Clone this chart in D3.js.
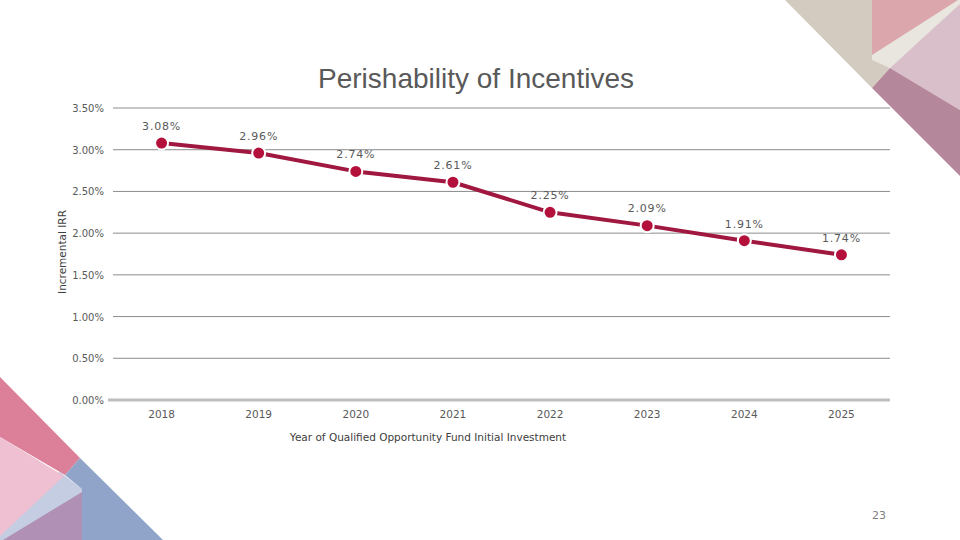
<!DOCTYPE html>
<html><head><meta charset="utf-8">
<script src="https://cdn.jsdelivr.net/npm/d3@7"></script>
<style>body{margin:0;background:#fff}svg{display:block}</style>
</head><body>
<svg id="c" width="960" height="540"></svg>
<script>
const years = ["2018","2019","2020","2021","2022","2023","2024","2025"];
const irr = [3.08, 2.96, 2.74, 2.61, 2.25, 2.09, 1.91, 1.74];
const yTicks = [0, 0.5, 1.0, 1.5, 2.0, 2.5, 3.0, 3.5];
const title = "Perishability of Incentives";
const xTitle = "Year of Qualified Opportunity Fund  Initial Investment";
const yTitle = "Incremental IRR";
const pageNum = "23";

const svg = d3.select("#c");

// decorative shapes
const deco = [
  {c:"#d3cbbf", p:[[785,0],[872,0],[872,55],[890,68],[872,88]]},
  {c:"#e9e6df", p:[[872,0],[960,0],[960,6],[890,68],[872,60]]},
  {c:"#dca7ac", p:[[872,0],[958,0],[872,55]]},
  {c:"#d9bfca", p:[[890,68],[960,4],[960,110]]},
  {c:"#b5879a", p:[[872,88],[890,68],[960,110],[960,176]]},
  {c:"#c5cde2", p:[[60,472],[82,489],[82,540],[0,540],[0,500]]},
  {c:"#dc809a", p:[[0,377],[80,458],[65,475],[0,437]]},
  {c:"#efc0d2", p:[[0,437],[64,476],[0,536]]},
  {c:"#b190b5", p:[[82,492],[82,540],[3,540]]},
  {c:"#8fa4c8", p:[[80,458],[163,540],[82,540],[82,489],[65,475]]}
];
svg.selectAll("polygon.deco").data(deco).enter().append("polygon")
  .attr("class", "deco")
  .attr("points", d => d.p.map(q => q.join(",")).join(" "))
  .attr("fill", d => d.c);

const pL = 113, pR = 890, pT = 108, pB = 400;
const x = d3.scaleBand().domain(years).range([pL, pR]);
const y = d3.scaleLinear().domain([0, 3.5]).range([pB, pT]);

const grey = "#595959";

// gridlines
svg.append("g").selectAll("line").data(yTicks.filter(t => t > 0)).enter().append("line")
  .attr("x1", pL).attr("x2", pR)
  .attr("y1", d => y(d)).attr("y2", d => y(d))
  .attr("stroke", "#8c8c8c").attr("stroke-width", 1);
svg.append("line").attr("x1", 108).attr("x2", pR)
  .attr("y1", y(0)).attr("y2", y(0))
  .attr("stroke", "#bfbfbf").attr("stroke-width", 3);

// y axis labels
const yAxis = d3.axisLeft(y).tickValues(yTicks).tickSize(0).tickPadding(0)
  .tickFormat(d => d3.format(".2f")(d) + "%");
const gy = svg.append("g").attr("transform", `translate(104,0)`).call(yAxis);
gy.select(".domain").remove();
gy.selectAll("text").attr("fill", grey).style("font-family", "'DejaVu Sans', sans-serif")
  .style("font-size", "10px").attr("dy", "0.35em");

// x axis labels
const xAxis = d3.axisBottom(x).tickSize(0).tickPadding(0);
const gx = svg.append("g").attr("transform", `translate(0,410)`).call(xAxis);
gx.select(".domain").remove();
gx.selectAll("text").attr("fill", grey).style("font-family", "'DejaVu Sans', sans-serif")
  .style("font-size", "10.5px").attr("dy", "0.8em");

// line
const cx = d => x(d) + x.bandwidth() / 2;
const line = d3.line().x((d, i) => cx(years[i])).y(d => y(d));
svg.append("path").datum(irr).attr("d", line)
  .attr("fill", "none").attr("stroke", "#a0173f").attr("stroke-width", 4)
  .attr("stroke-linejoin", "round");

svg.append("g").selectAll("circle").data(irr).enter().append("circle")
  .attr("cx", (d, i) => cx(years[i])).attr("cy", d => y(d)).attr("r", 6.5)
  .attr("fill", "#b4103c").attr("stroke", "#fff").attr("stroke-width", 2);

svg.append("g").selectAll("text").data(irr).enter().append("text")
  .attr("x", (d, i) => cx(years[i])).attr("y", d => y(d) - 17)
  .attr("dy", "0.35em").attr("text-anchor", "middle")
  .attr("fill", grey).style("font-family", "'DejaVu Sans', sans-serif")
  .style("font-size", "11px").style("letter-spacing", "0.8px")
  .text(d => d3.format(".2f")(d) + "%");

// titles
svg.append("text").attr("x", 476).attr("y", 88).attr("text-anchor", "middle")
  .attr("fill", grey).style("font-family", "'Liberation Sans', Arial, sans-serif")
  .style("font-size", "28px").text(title);
svg.append("text").attr("x", 428).attr("y", 441).attr("text-anchor", "middle")
  .attr("fill", "#404040").style("font-family", "'DejaVu Sans', sans-serif")
  .style("font-size", "10.5px").text(xTitle);
svg.append("text").attr("transform", "translate(66,252) rotate(-90)").attr("text-anchor", "middle")
  .attr("fill", "#404040").style("font-family", "'DejaVu Sans', sans-serif")
  .style("font-size", "10.5px").text(yTitle);
svg.append("text").attr("x", 879).attr("y", 519).attr("text-anchor", "middle")
  .attr("fill", "#7f7f7f").style("font-family", "'DejaVu Sans', sans-serif")
  .style("font-size", "11px").text(pageNum);
</script>
</body></html>
